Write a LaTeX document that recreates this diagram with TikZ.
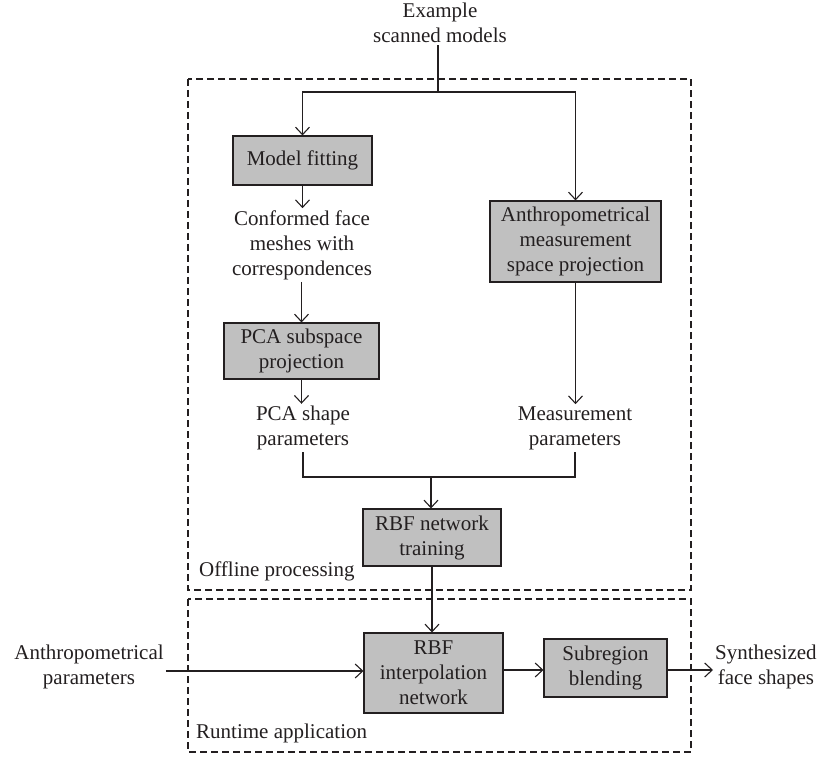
\documentclass[tikz,border=0pt]{standalone}
\usepackage{fontspec}
\setmainfont{Liberation Serif}
\usetikzlibrary{arrows.meta,calc}
\definecolor{boxgray}{HTML}{C0C0C0}
\definecolor{ink}{HTML}{231F20}
\begin{document}
\begin{tikzpicture}[x=1pt,y=-1pt,
  every node/.style={font=\fontsize{21}{25}\selectfont, text=ink, align=center},
  procbox/.style={draw=ink, line width=1.1pt, fill=boxgray, inner sep=0pt},
  lbl/.style={inner sep=2pt},
  conn/.style={draw=ink, line width=1.1pt},
  arr/.style={conn, -{Straight Barb[length=7.5pt,width=14pt]}},
  region/.style={draw=ink, line width=1.1pt, dash pattern=on 7pt off 4pt}
]
\useasboundingbox (0,0) rectangle (823,757);

% regions
\draw[region] (188,79) rectangle (691,590);
\draw[region] (188,599) rectangle (691,752);
\node[lbl, anchor=west] (offl) at (197,571) {Offline processing};
\node[lbl, anchor=west] (runt) at (194,733) {Runtime application};

% nodes
\node[lbl] (ex) at (440,23) {Example\\scanned models};
\node[procbox, minimum width=139pt, minimum height=49pt] (mf) at (302.5,160.5) {Model fitting};
\node[lbl] (conf) at (302,245) {Conformed face\\meshes with\\correspondences};
\node[procbox, minimum width=155pt, minimum height=56pt] (pca) at (301.5,351) {PCA subspace\\projection};
\node[lbl] (pcas) at (303,428) {PCA shape\\parameters};
\node[procbox, minimum width=171pt, minimum height=81pt] (anth) at (575.5,241.5) {Anthropometrical\\measurement\\space projection};
\node[lbl] (meas) at (575,428) {Measurement\\parameters};
\node[procbox, minimum width=138pt, minimum height=57pt] (rbft) at (432,537.5) {RBF network\\training};
\node[procbox, minimum width=139pt, minimum height=80pt] (rbfi) at (433.5,673) {RBF\\interpolation\\network};
\node[procbox, minimum width=123pt, minimum height=58pt] (sub) at (605.5,668) {Subregion\\blending};
\node[lbl] (anthp) at (89,667) {Anthropometrical\\parameters};
\node[lbl, anchor=west] (synth) at (713,667) {Synthesized\\face shapes};

% connectors
\coordinate (top) at (438,92);
\coordinate (j) at (431,477);
\draw[conn] (top |- ex.south) -- (top);
\draw[arr] (top) -| (mf.north);
\draw[arr] (top) -| (anth.north);
\draw[arr] (mf.south) -- (mf.south |- conf.north);
\draw[arr] (pca.north |- conf.south) -- (pca.north);
\draw[arr] (pca.south) -- (pca.south |- pcas.north);
\draw[arr] (anth.south) -- (anth.south |- meas.north);
\draw[conn] (pcas.south) |- (j) -| (meas.south);
\draw[arr] (j) -- (j |- rbft.north);
\draw[arr] (rbft.south) -- (rbft.south |- rbfi.north);
\draw[arr] (anthp.east |- 0,671) -- (rbfi.west |- 0,671);
\draw[arr] (rbfi.east |- 0,670) -- (sub.west |- 0,670);
\draw[arr] (sub.east |- 0,670) -- (synth.west |- 0,670);
\end{tikzpicture}
\end{document}
